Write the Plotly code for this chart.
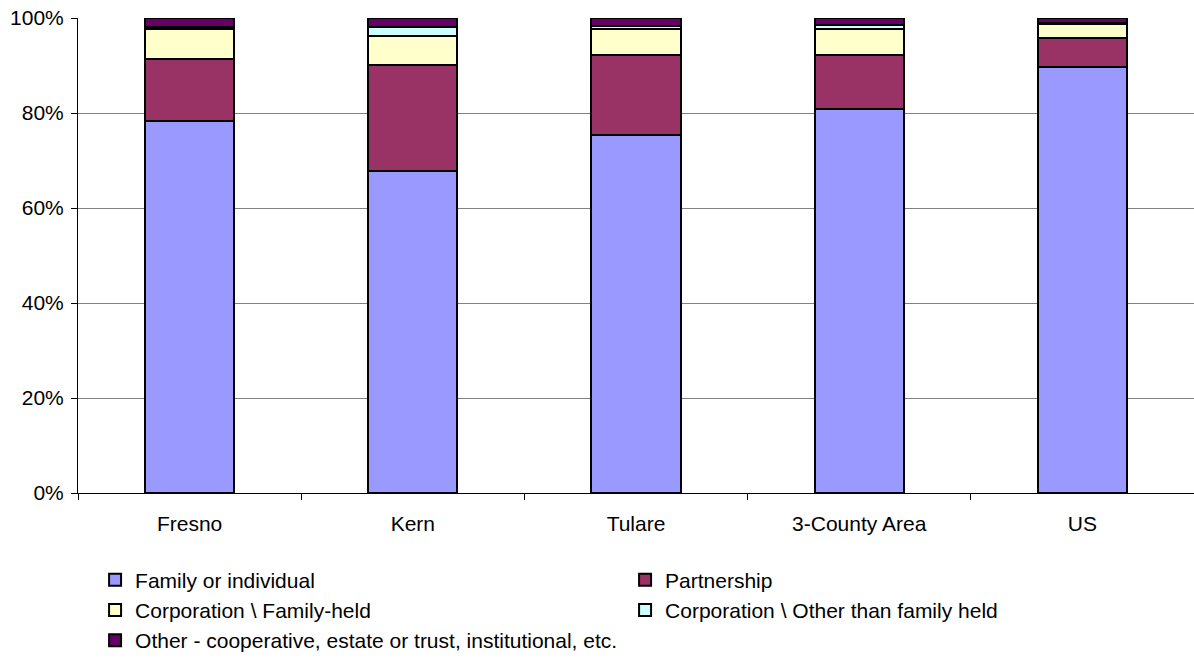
import plotly.graph_objects as go

categories = ["Fresno", "Kern", "Tulare", "3-County Area", "US"]
family = [78.3, 67.8, 75.4, 80.8, 89.6]
partnership = [13.0, 22.3, 16.8, 11.4, 6.1]
corp_family = [6.3, 6.1, 5.5, 5.4, 3.0]
corp_other = [0.6, 2.0, 0.6, 1.0, 0.3]
other = [1.8, 1.8, 1.6, 1.3, 1.0]

series = [
    ("Family or individual", family, "#9999FF"),
    ("Partnership", partnership, "#993366"),
    ("Corporation \\ Family-held", corp_family, "#FFFFCC"),
    ("Corporation \\ Other than family held", corp_other, "#CCFFFF"),
    ("Other - cooperative, estate or trust, institutional, etc.", other, "#660066"),
]

fig = go.Figure()
for name, vals, col in series:
    fig.add_trace(go.Bar(
        x=categories, y=vals, name=name,
        marker=dict(color=col, line=dict(color="black", width=2)),
    ))

fig.update_layout(
    barmode="stack",
    bargap=0.6,
    width=1194, height=663,
    margin=dict(l=78, r=0, t=18, b=170),
    paper_bgcolor="white", plot_bgcolor="white",
    font=dict(family="Liberation Sans, Arial, sans-serif", size=21, color="black"),
    showlegend=True,
    legend=dict(
        orientation="h", x=0.0153, xanchor="left", y=-0.14, yanchor="top",
        entrywidth=485, entrywidthmode="pixels",
        font=dict(size=21), traceorder="normal",
        tracegroupgap=0,
    ),
    xaxis=dict(
        showline=True, linecolor="black", linewidth=1,
        ticks="outside", tickson="boundaries", ticklen=6, tickcolor="black",
        ticklabelstandoff=12,
        showgrid=False, automargin=False,
    ),
    yaxis=dict(
        range=[0, 100], tickvals=[0, 20, 40, 60, 80, 100],
        ticktext=["0%", "20%", "40%", "60%", "80%", "100%"],
        showline=True, linecolor="black", linewidth=1,
        ticks="outside", ticklen=6, tickcolor="black",
        ticklabelstandoff=3,
        showgrid=True, gridcolor="#808080", gridwidth=1,
        zeroline=False, automargin=False,
    ),
)

fig.write_html(
    "out.html",
    config={"displayModeBar": False},
    post_script="document.body.style.margin='0';document.body.style.overflow='hidden';",
)
